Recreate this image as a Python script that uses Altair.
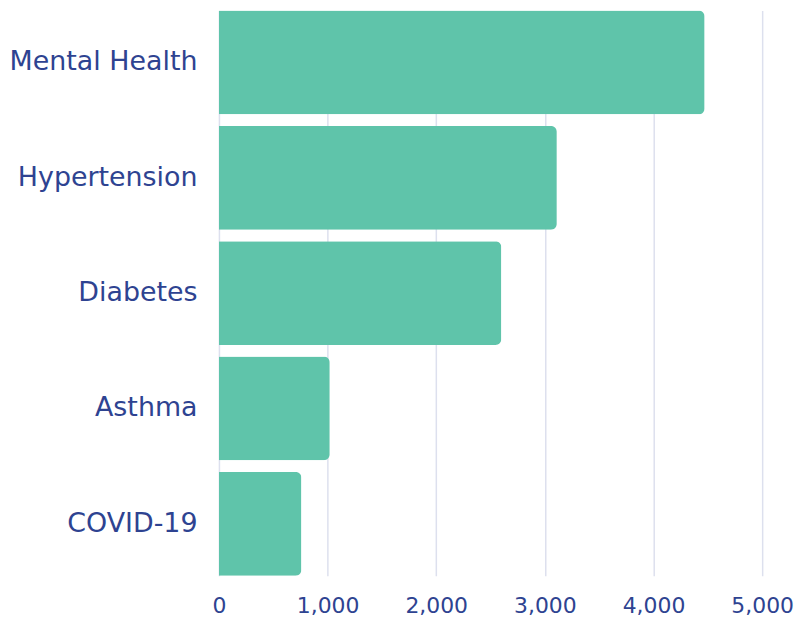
import altair as alt
import pandas as pd

categories = ["Mental Health", "Hypertension", "Diabetes", "Asthma", "COVID-19"]
values = [4470, 3110, 2600, 1020, 760]

df = pd.DataFrame({"category": categories, "value": values})

chart = alt.Chart(df).mark_bar(
    color="#5fc4aa", cornerRadiusEnd=6
).encode(
    x=alt.X("value:Q", scale=alt.Scale(domain=[0, 5000], nice=False),
            axis=alt.Axis(values=[0, 1000, 2000, 3000, 4000, 5000], format=",.0f",
                          title=None, domain=False, ticks=False, labelPadding=20,
                          labelFlush=False, labelOverlap=False, labelFontSize=22,
                          gridColor="#dde0ee", gridWidth=1.5)),
    y=alt.Y("category:N", sort=categories,
            scale=alt.Scale(paddingInner=0.1, paddingOuter=0),
            axis=alt.Axis(title=None, domain=False, ticks=False, labelPadding=22,
                          labelFontSize=27, labelLimit=300, grid=False)),
).properties(
    width=546, height=568,
    autosize=alt.AutoSizeParams(type="none"),
    padding={"left": 212, "top": 1, "right": 32, "bottom": 46},
).configure_axis(
    labelFont="DejaVu Sans", labelColor="#2e4391",
).configure_view(stroke=None)

chart.save("out.html", embed_options={"renderer": "svg", "actions": False})
